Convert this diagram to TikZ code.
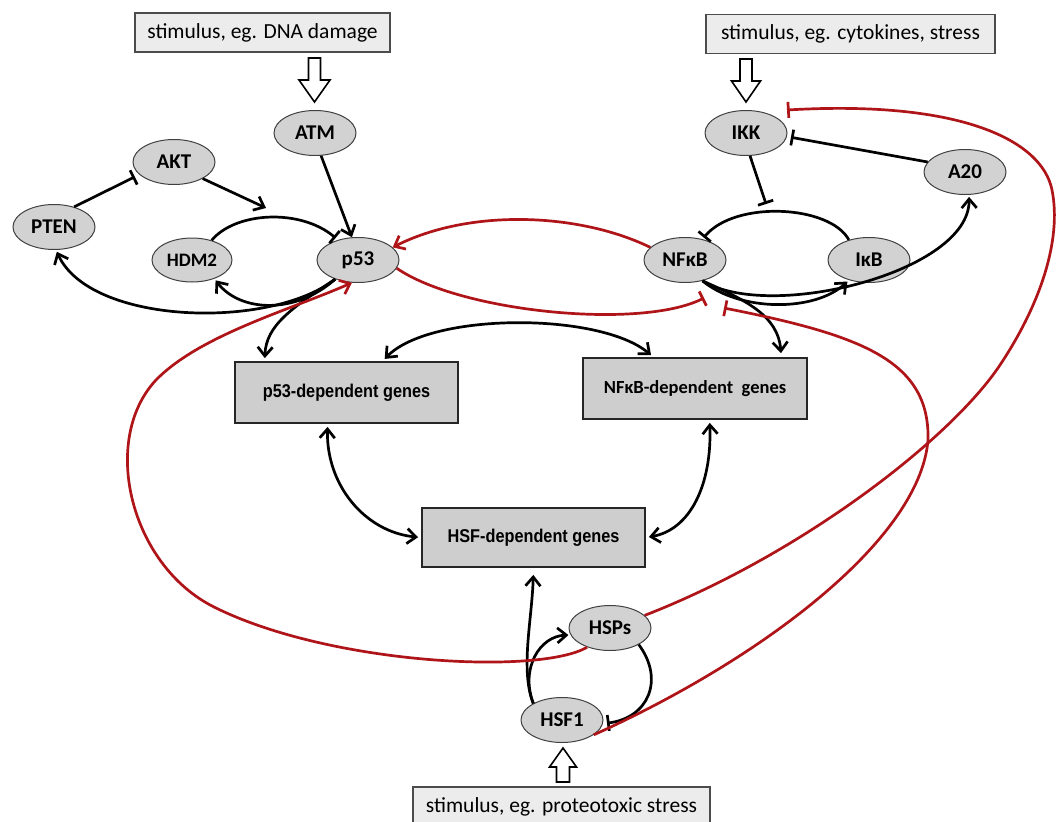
\documentclass[tikz,border=0pt]{standalone}
\usepackage{fontspec}
\setmainfont{Carlito}
\newfontfamily\genefont[FakeStretch=0.88]{Liberation Sans}
\usetikzlibrary{arrows.meta,shapes.geometric,calc}
\definecolor{rline}{RGB}{175,20,25}
\definecolor{ellfill}{RGB}{210,210,210}
\definecolor{boxfill}{RGB}{206,206,206}
\definecolor{stimfill}{RGB}{236,236,236}
\tikzset{
  ell/.style={ellipse, draw=black!75, line width=1pt, fill=ellfill, minimum width=82pt, minimum height=45pt, inner sep=0pt, font=\bfseries\fontsize{21}{21}\selectfont},
  gbox/.style={rectangle, draw=black!85, line width=1.8pt, fill=boxfill, minimum width=223pt, minimum height=60pt, inner sep=0pt, font=\genefont\bfseries\fontsize{18.5}{18.5}\selectfont},
  stim/.style={rectangle, draw=black!70, line width=1.4pt, fill=stimfill, minimum height=39pt, inner sep=0pt, font=\fontsize{21.5}{21.5}\selectfont},
  hollow/.style={draw=black, line width=1.6pt, fill=white, line join=miter},
  act/.style={line width=2.7pt, -{Straight Barb[length=9pt,width=15pt]}},
  inh/.style={line width=2.7pt, -{Bar[width=16pt]}},
  dbl/.style={line width=2.7pt, {Straight Barb[length=9pt,width=15pt]}-{Straight Barb[length=9pt,width=15pt]}, shorten >=3pt, shorten <=3pt},
  ract/.style={act, draw=rline},
  rinh/.style={inh, draw=rline}
}
\begin{document}
\begin{tikzpicture}[x=1pt,y=-1pt]
\useasboundingbox[fill=white] (0,0) rectangle (1056,821);

% stimulus boxes
\node[stim, minimum width=255pt] (dna) at (262.5,32.5) {stimulus, eg. DNA damage};
\node[stim, minimum width=289pt] (cyto) at (850.5,34) {stimulus, eg. cytokines, stress};
\node[stim, minimum width=297pt] (prot) at (561.5,806.5) {stimulus, eg. proteotoxic stress};

% ellipses
\node[ell] (ATM) at (315,133) {ATM};
\node[ell] (AKT) at (174,162) {AKT};
\node[ell] (PTEN) at (54,227) {PTEN};
\node[ell, minimum width=80pt, minimum height=44pt, font=\bfseries\fontsize{19}{19}\selectfont] (HDM2) at (192,260) {HDM2};
\node[ell] (p53) at (358,260) {p53};
\node[ell] (NFkB) at (685,260) {NFκB};
\node[ell] (IkB) at (869,260) {IκB};
\node[ell] (IKK) at (746,133) {IKK};
\node[ell] (A20) at (965,172) {A20};
\node[ell] (HSPs) at (610,628) {HSPs};
\node[ell] (HSF1) at (562,720) {HSF1};

% gene boxes
\node[gbox, minimum height=61pt] (p53dep) at (346.5,392.5) {p53-dependent genes};
\node[gbox, minimum width=224pt, minimum height=61pt, font=\bfseries\fontsize{18.5}{18.5}\selectfont] (nfdep) at (695,388.5) {NFκB-dependent\ \ genes};
\node[gbox, minimum height=59pt] (hsfdep) at (533.5,537.5) {HSF-dependent genes};

% free ends
\coordinate (aktT) at (266,208);
\coordinate (ikkT) at (766,204);
\coordinate (nfbarA) at (704,298);
\coordinate (nfbarB) at (724,308);
\coordinate (ikkbar) at (787,110);
\coordinate (dnaA) at (314.5,58);
\coordinate (cytoA) at (746,59);
\coordinate (protA) at (563,782);

% hollow stimulus arrows
\draw[hollow, shift={(dnaA)}] (-6,0) -- (6,0) -- (6,22) -- (15.5,22) -- (0,44) -- (-15.5,22) -- (-6,22) -- cycle;
\draw[hollow, shift={(cytoA)}] (-6,0) -- (6,0) -- (6,22) -- (14.5,22) -- (0,43) -- (-14.5,22) -- (-6,22) -- cycle;
\draw[hollow, shift={(protA)}] (-6.5,0) -- (6.5,0) -- (6.5,-15) -- (13.5,-15) -- (0,-34) -- (-13.5,-15) -- (-6.5,-15) -- cycle;

% p53 module
\draw[inh, shorten >=5pt] (PTEN.45) -- (AKT.200);
\draw[act] (AKT.-30) -- (aktT);
\draw[inh, shorten >=3pt] (HDM2.45) .. controls (235,212) and (300,208) .. (p53.135);
\draw[act] (ATM.-75) -- (p53.105);
\draw[act, shorten >=2pt] (p53.-140) .. controls (270,330) and (90,325) .. (PTEN.-85);
\draw[act, shorten >=2pt] (p53.-140) .. controls (295,315) and (240,312) .. (HDM2.-40);
\draw[act, shorten >=3pt] (p53.-140) .. controls (292,308) and (266,325) .. (p53dep.159);

% NFkB module
\draw[inh, shorten >=2pt] (IkB.135) .. controls (830,205) and (735,200) .. (NFkB.50);
\draw[inh] (IKK.-80) -- (ikkT);
\draw[inh, shorten >=4pt] (A20.165) -- (IKK.-5);
\draw[act, shorten >=2pt] (NFkB.-50) .. controls (740,312) and (815,312) .. (IkB.-135);
\draw[act, shorten >=2pt] (NFkB.-50) .. controls (770,322) and (970,272) .. (A20.-80);
\draw[act, shorten >=4pt] (NFkB.-50) .. controls (745,300) and (778,315) .. (nfdep.20);

% gene box links
\draw[dbl] (p53dep.41) .. controls (430,312) and (600,312) .. (nfdep.143);
\draw[dbl] (p53dep.-121) .. controls (326,485) and (365,532) .. (hsfdep.west);
\draw[dbl] (nfdep.-65) .. controls (712,485) and (690,530) .. (hsfdep.east);

% HSF module
\draw[act, shorten >=7pt] (HSF1.150) .. controls (520,670) and (532,620) .. (hsfdep.south);
\draw[act, shorten >=2pt] (HSF1.150) .. controls (520,668) and (540,636) .. (HSPs.190);
\draw[inh, shorten >=4pt] (HSPs.-30) .. controls (665,680) and (648,718) .. (HSF1.-5);

% red cross-talk
\draw[ract] (NFkB.160) .. controls (580,213) and (470,208) .. (p53.20);
\draw[rinh] (p53.-12) .. controls (460,312) and (640,330) .. (nfbarA);
\draw[rinh] (HSF1.-25) .. controls (760,660) and (920,540) .. (928,440)
   .. controls (930,360) and (860,335) .. (nfbarB);
\draw[rinh] (HSPs.20) .. controls (800,555) and (950,440) .. (1000,365)
   .. controls (1040,305) and (1062,240) .. (1052,190)
   .. controls (1042,140) and (960,100) .. (ikkbar);
\draw[ract] (HSPs.-140) .. controls (540,675) and (330,665) .. (214,607)
   .. controls (130,565) and (100,440) .. (156,380)
   .. controls (200,335) and (290,310) .. (p53.-105);
\end{tikzpicture}
\end{document}
